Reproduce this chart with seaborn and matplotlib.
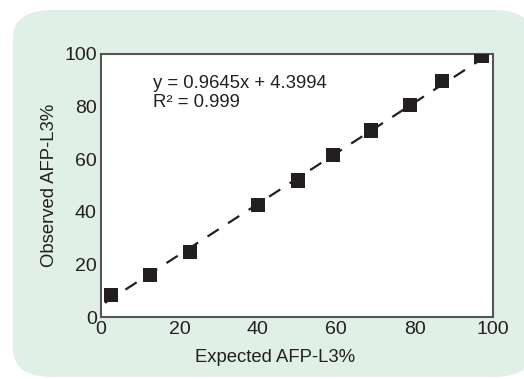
import numpy as np
import pandas as pd
import matplotlib
matplotlib.use('Agg')
import matplotlib.pyplot as plt
from matplotlib.patches import FancyBboxPatch
import seaborn as sns

# --- data ---
expected = [2.5, 12.5, 22.7, 40.0, 50.3, 59.2, 68.9, 78.8, 87.0, 97.0]
observed = [8.4, 16.0, 24.7, 42.6, 52.0, 61.6, 71.0, 80.6, 89.7, 99.2]
slope = 0.9645
intercept = 4.3994
r2_text = "0.999"
fit_x = [1.0, 99.0]

df = pd.DataFrame({'Expected': expected, 'Observed': observed})
fit_df = pd.DataFrame({'x': fit_x, 'y': [slope * v + intercept for v in fit_x]})

sns.set_style('white')
plt.rcParams['font.family'] = ['Liberation Sans', 'DejaVu Sans']

fig = plt.figure(figsize=(5.24, 3.79), dpi=100)

# rounded green panel behind the chart
panel = FancyBboxPatch((13 / 524, 2 / 379), 520 / 524, 367 / 379,
                       boxstyle='round,pad=0,rounding_size=0.075',
                       transform=fig.transFigure, facecolor='#e1f0e6',
                       edgecolor='none', zorder=-10)
fig.patches.append(panel)

ax = fig.add_axes([101 / 524, 1 - 317 / 379, 392 / 524, 263 / 379])
ax.set_zorder(1)
ax.set_facecolor('white')

sns.lineplot(data=fit_df, x='x', y='y', ax=ax, color='#231f20',
             linestyle=(0, (6, 5)), linewidth=1.6, zorder=2)
sns.scatterplot(data=df, x='Expected', y='Observed', ax=ax, marker='s',
                s=110, color='#231f20', edgecolor='none', zorder=3)

ax.set_xlim(0, 100)
ax.set_ylim(0, 100)
ax.set_xticks([0, 20, 40, 60, 80, 100])
ax.set_yticks([0, 20, 40, 60, 80, 100])
ax.tick_params(direction='in', length=5, width=1, color='#555555',
               labelsize=14, labelcolor='#231f20', pad=3)
for s in ax.spines.values():
    s.set_visible(True)
    s.set_color('#555555')
    s.set_linewidth(1.5)

ax.set_xlabel('Expected AFP-L3%', fontsize=13.3, color='#231f20')
ax.set_ylabel('Observed AFP-L3%', fontsize=13.3, color='#231f20')
ax.xaxis.set_label_coords(0.444, -0.12)
ax.yaxis.set_label_coords(-0.11, 0.5)

ax.text(13.3, 92, f"y = {slope}x + {intercept}\nR\u00b2 = {r2_text}",
        fontsize=13.3, color='#231f20', va='top', ha='left', linespacing=1.12)

fig.savefig('out.png', dpi=100)
